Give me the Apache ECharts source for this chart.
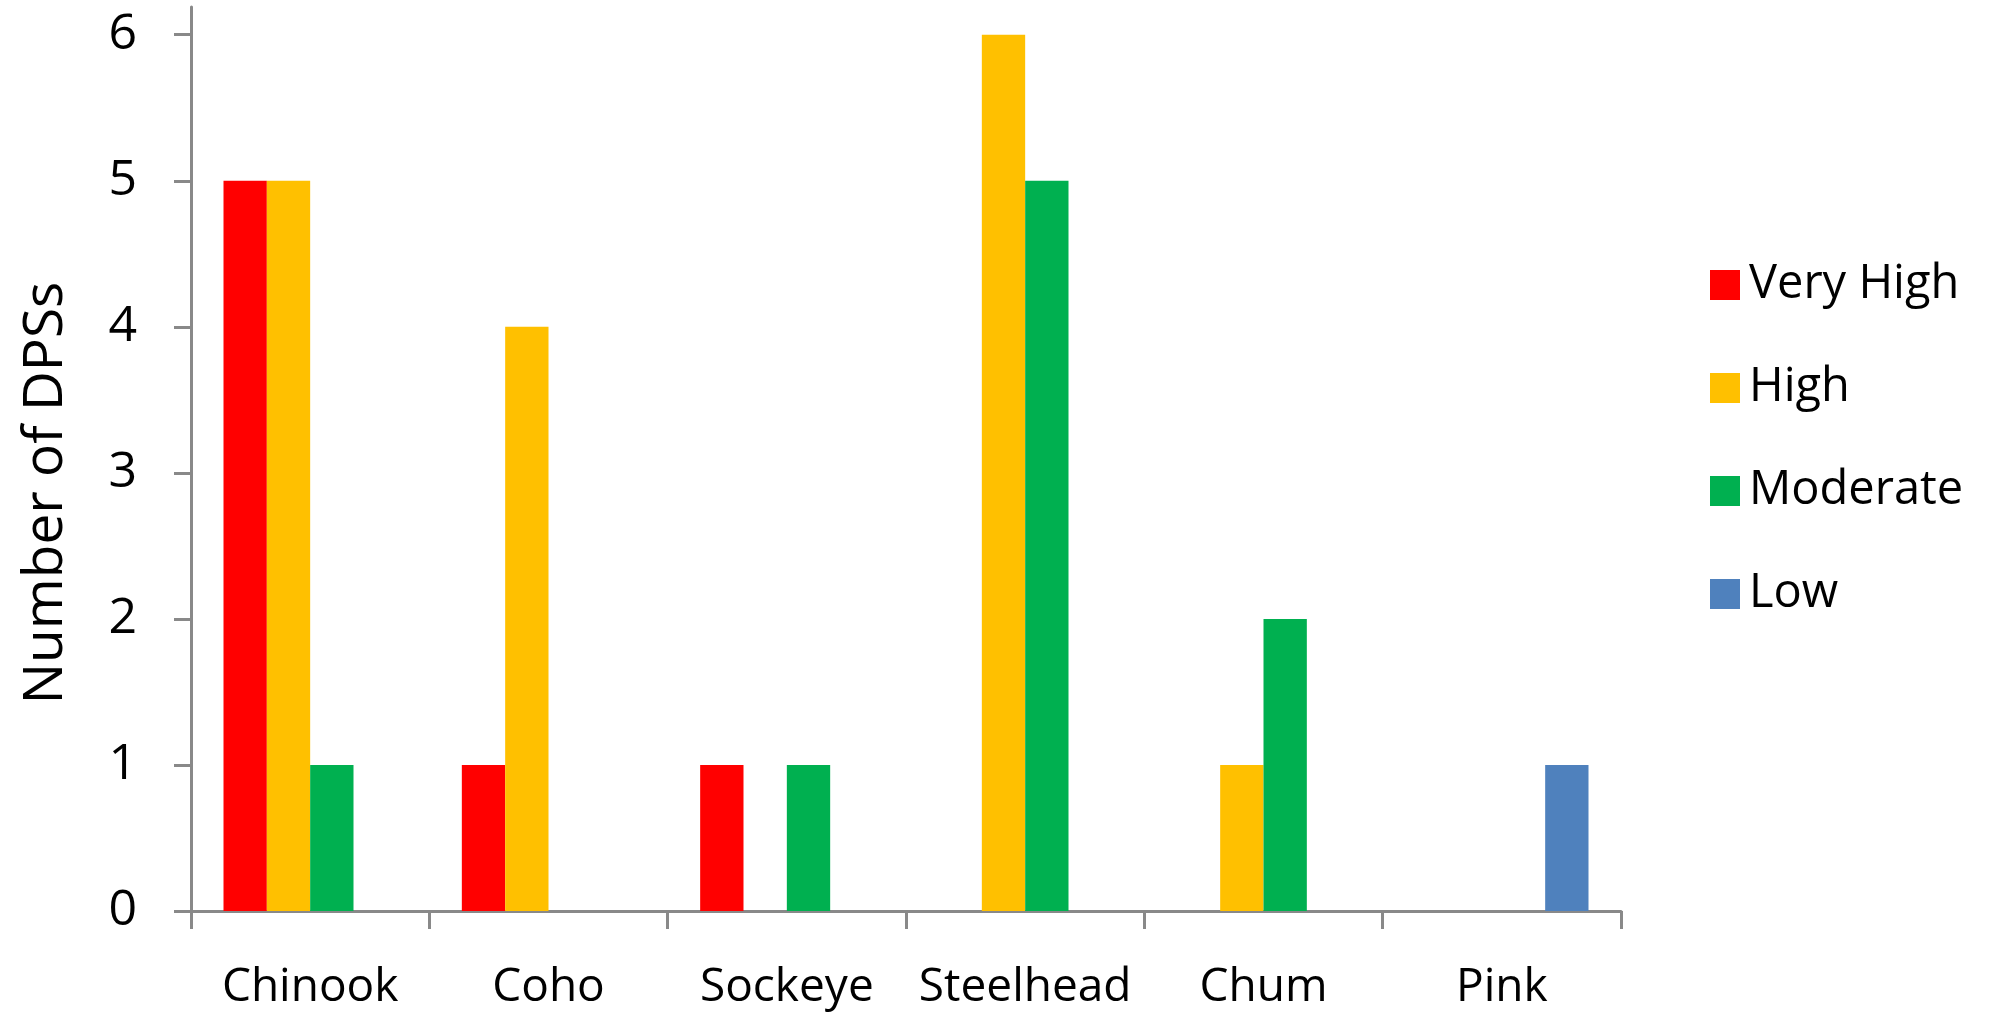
<!DOCTYPE html>
<html>
<head>
<meta charset="utf-8">
<title>Number of DPSs by species</title>
<script src="https://cdn.jsdelivr.net/npm/echarts@6/dist/echarts.min.js"></script>
<style>
  html, body { margin: 0; padding: 0; background: #ffffff; }
  #chart { width: 2000px; height: 1012px; }
</style>
</head>
<body>
<div id="chart"></div>
<script>
// Species (distinct population segments) and counts per risk level
const species = ['Chinook', 'Coho', 'Sockeye', 'Steelhead', 'Chum', 'Pink'];
const veryHigh = [5, 1, 1, 0, 0, 0];
const high     = [5, 4, 0, 6, 1, 0];
const moderate = [1, 0, 1, 5, 2, 0];
const low      = [0, 0, 0, 0, 0, 1];
const yTicks   = [0, 1, 2, 3, 4, 5, 6];

const FONT = '"Open Sans", "Noto Sans", sans-serif';
const AXIS_GREY = '#898989';

const chart = echarts.init(document.getElementById('chart'));

function barSeries(name, data, color) {
  return {
    name: name,
    type: 'bar',
    data: data,
    barGap: '0%',
    barCategoryGap: '27.27%',
    itemStyle: { color: color },
    emphasis: { disabled: true }
  };
}

chart.setOption({
  animation: false,
  backgroundColor: '#ffffff',
  grid: { left: 191, right: 379, top: 7, bottom: 101, containLabel: false },
  legend: {
    orient: 'vertical',
    left: 1705,
    top: 255,
    icon: 'rect',
    itemWidth: 30,
    itemHeight: 30,
    itemGap: 53,
    selectedMode: false,
    textStyle: {
      fontFamily: FONT,
      fontSize: 47,
      color: '#000000',
      lineHeight: 50,
      padding: [0, 0, 0, 4]
    },
    data: ['Very High', 'High', 'Moderate', 'Low']
  },
  xAxis: {
    type: 'category',
    data: species,
    boundaryGap: true,
    axisLine: { lineStyle: { color: AXIS_GREY, width: 3 } },
    axisTick: { show: true, inside: false, length: 18, lineStyle: { color: AXIS_GREY, width: 3 } },
    axisLabel: { fontFamily: FONT, fontSize: 46, color: '#000000', margin: 54, interval: 0 },
    splitLine: { show: false }
  },
  yAxis: {
    type: 'value',
    min: 0,
    max: 6.19,
    interval: 1,
    axisLine: { show: true, lineStyle: { color: AXIS_GREY, width: 3 } },
    axisTick: { show: true, inside: false, length: 17, customValues: yTicks, lineStyle: { color: AXIS_GREY, width: 3 } },
    axisLabel: { fontFamily: FONT, fontSize: 50, color: '#000000', margin: 54, customValues: yTicks },
    splitLine: { show: false }
  },
  graphic: [{
    type: 'text',
    x: 46,
    y: 493,
    rotation: Math.PI / 2,
    style: {
      text: 'Number of DPSs',
      fontFamily: FONT,
      fontSize: 55,
      fill: '#000000',
      align: 'center',
      verticalAlign: 'middle'
    }
  }],
  series: [
    barSeries('Very High', veryHigh, '#FF0000'),
    barSeries('High', high, '#FFC000'),
    barSeries('Moderate', moderate, '#00B050'),
    barSeries('Low', low, '#4F81BD')
  ]
});
</script>
</body>
</html>
